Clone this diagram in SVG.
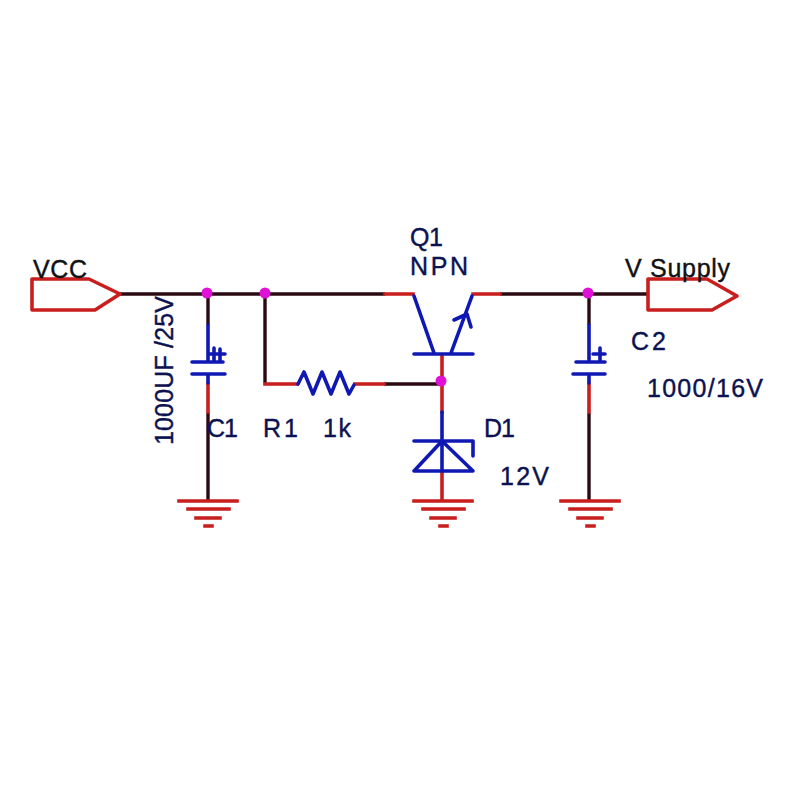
<svg xmlns="http://www.w3.org/2000/svg" width="800" height="800" viewBox="0 0 800 800">
<style>
.r{fill:none;stroke:#c81e1e;stroke-width:3.6;stroke-linecap:square;stroke-linejoin:round}
.k{fill:none;stroke:#2a0a12;stroke-width:3.4;stroke-linecap:butt}
.b{fill:none;stroke:#1018b4;stroke-width:3.6;stroke-linecap:round;stroke-linejoin:round}
.d{fill:#e010d8}
text{font-family:"Liberation Sans",Arial,sans-serif;font-size:25px;fill:#0c1250;stroke:#0c1250;stroke-width:.4}
</style>
<defs>
<g id="gnd"><path class="r" d="M-29 0H29M-20 8H21M-12 17H12M-3 25H4"/></g>
</defs>
<rect width="800" height="800" fill="#fff"/>
<g id="connectors">
<path class="k" d="M120 294H385M500 294H648M208 294V325M208 413V500M265 294V383M384 384H441M589 294V325M589 413V500"/>
<path class="r" d="M385 294H413M473 294H500M208 384V412M265 384H297M355 384H384M442 356V412M442 472V500M589 384V412"/>
</g>
<g id="VCC">
<path class="r" d="M32 279H89L120 294L95 310H32Z"/>
<text x="33" y="278" textLength="54" style="fill:#111;stroke:#111">VCC</text>
</g>
<g id="VSupply">
<path class="r" d="M648 279H707L737 296L712 310H648Z"/>
<text x="625" y="277" textLength="105" style="fill:#111;stroke:#111">V Supply</text>
</g>
<g id="J1"><circle class="d" cx="207" cy="293" r="5.5"/></g>
<g id="J2"><circle class="d" cx="265" cy="293" r="5.5"/></g>
<g id="J3"><circle class="d" cx="441" cy="381" r="5.5"/></g>
<g id="J4"><circle class="d" cx="588" cy="293" r="5.5"/></g>
<g id="C1">
<path class="b" d="M208 325V361M192 362H223M192 374H225M208 374V383M209 354H225M214 348V361M220 349V360"/>
<use href="#gnd" x="208" y="501"/>
<text x="207" y="437" textLength="31">C1</text>
<text transform="translate(173 445) rotate(-90)" textLength="149">1000UF /25V</text>
</g>
<g id="R1">
<path class="b" d="M298 384L304 372L313 394L322 372L331 394L340 372L349 394L354 385"/>
<text x="263" y="437" textLength="35">R1</text>
<text x="323" y="437" textLength="28">1k</text>
</g>
<g id="Q1">
<path class="b" d="M414 296L434 353M414 354H473M472 296L451 353M454 320L467 314L471 327"/>
<text x="410" y="246" textLength="33">Q1</text>
<text x="410" y="275" textLength="58">NPN</text>
</g>
<g id="D1">
<path class="b" d="M442 412V471M414 441H473V456M442 441L414 471H473Z"/>
<use href="#gnd" x="443" y="501"/>
<text x="484" y="437" textLength="31">D1</text>
<text x="500" y="485" textLength="49">12V</text>
</g>
<g id="C2">
<path class="b" d="M589 325V361M576 362H605M573 374H605M589 374V383M593 354H605M600 348V360"/>
<use href="#gnd" x="590" y="501"/>
<text x="631" y="350" textLength="35">C2</text>
<text x="647" y="397" textLength="116">1000/16V</text>
</g>
</svg>
